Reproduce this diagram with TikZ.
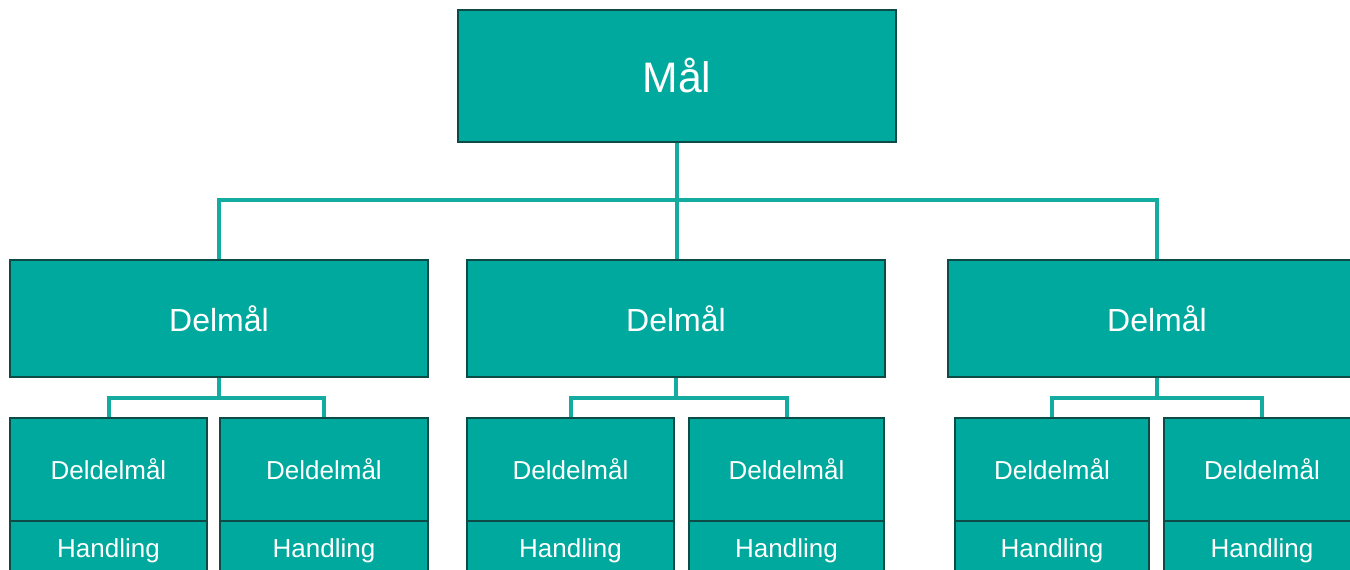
\documentclass[tikz,border=0pt]{standalone}
\usepackage{fontspec}
\setmainfont{Liberation Sans}
\usetikzlibrary{backgrounds}
\definecolor{tealfill}{HTML}{00A99D}
\definecolor{tealedge}{HTML}{0D4B46}
\definecolor{tealline}{HTML}{14ABA0}
\tikzset{
  box/.style={draw=tealedge, fill=tealfill, line width=1.9pt, text=white,
    outer sep=0pt, inner sep=0pt, align=center},
  goal/.style={box, minimum width=328.5pt, minimum height=99pt,
    font=\fontsize{32}{38}\selectfont},
  subgoal/.style={box, minimum width=313.5pt, minimum height=87.75pt,
    font=\fontsize{24}{28}\selectfont},
  subsub/.style={box, minimum height=77.25pt, font=\fontsize{19.5}{23}\selectfont},
  action/.style={box, minimum height=45pt, anchor=north,
    font=\fontsize{19.5}{23}\selectfont},
  link/.style={draw=tealline, line width=3pt},
}
\begin{document}
\begin{tikzpicture}[x=0.75pt, y=-0.75pt]
\useasboundingbox (0,0) rectangle (1350,569);
\clip (0,0) rectangle (1350,569);

% top goal
\node[goal] (mal) at (677,76) {Mål};

% sub goals
\node[subgoal] (d1) at (219,318.5) {Delmål};
\node[subgoal] (d2) at (676,318.5) {Delmål};
\node[subgoal] (d3) at (1157,318.5) {Delmål};

% sub-sub goals with their actions
\node[subsub, minimum width=147.75pt] (a1) at (108.5,469.5) {Deldelmål};
\node[subsub, minimum width=156pt]    (b1) at (324,469.5)   {Deldelmål};
\node[subsub, minimum width=155.25pt] (a2) at (570.5,469.5) {Deldelmål};
\node[subsub, minimum width=146.25pt] (b2) at (786.5,469.5) {Deldelmål};
\node[subsub, minimum width=145.5pt]  (a3) at (1052,469.5)  {Deldelmål};
\node[subsub, minimum width=147pt]    (b3) at (1262,469.5)  {Deldelmål};

\node[action, minimum width=147.75pt] (h1) at (a1.south) {Handling};
\node[action, minimum width=156pt]    (h2) at (b1.south) {Handling};
\node[action, minimum width=155.25pt] (h3) at (a2.south) {Handling};
\node[action, minimum width=146.25pt] (h4) at (b2.south) {Handling};
\node[action, minimum width=145.5pt]  (h5) at (a3.south) {Handling};
\node[action, minimum width=147pt]    (h6) at (b3.south) {Handling};

% connectors
\coordinate (bus) at (0,200);
\coordinate (sub) at (0,398);
\begin{pgfonlayer}{background}
  \draw[link] (mal.south) -- (mal.south |- d2.north);
  \draw[link] (d1.north) -- (d1.north |- bus) -- (d3.north |- bus) -- (d3.north);
  \foreach \p/\l/\r in {d1/a1/b1, d2/a2/b2, d3/a3/b3} {
    \draw[link] (\p.south) -- (\p.south |- sub);
    \draw[link] (\l.north) -- (\l.north |- sub) -- (\r.north |- sub) -- (\r.north);
  }
\end{pgfonlayer}
\end{tikzpicture}
\end{document}
